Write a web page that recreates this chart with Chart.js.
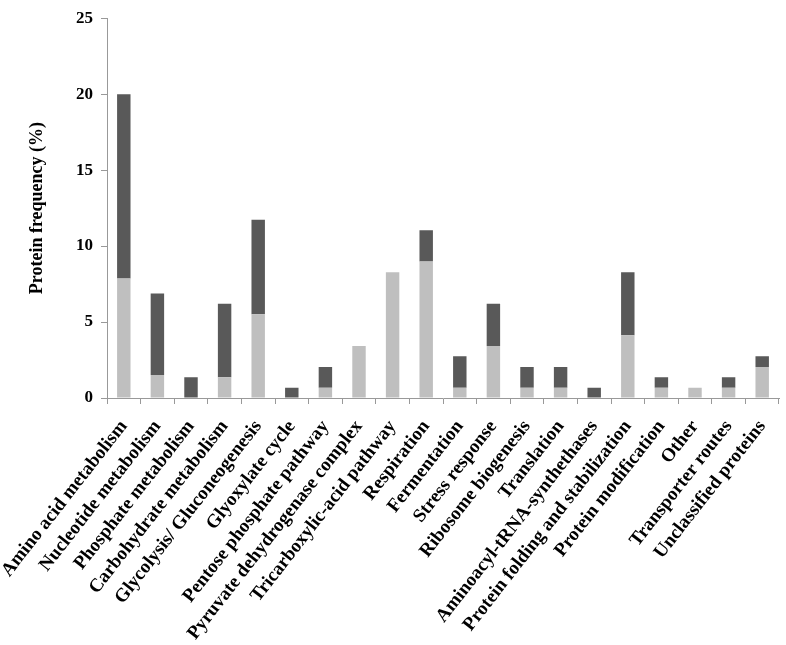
<!DOCTYPE html>
<html>
<head>
<meta charset="utf-8">
<script src="https://cdn.jsdelivr.net/npm/chart.js@4"></script>
<style>
  body { margin: 0; background: #fff; }
  #wrap { width: 786px; height: 645px; }
</style>
</head>
<body>
<div id="wrap"><canvas id="myChart" width="786" height="645"></canvas></div>
<script>
const categories = [
  "Amino acid metabolism",
  "Nucleotide metabolism",
  "Phosphate metabolism",
  "Carbohydrate metabolism",
  "Glycolysis/ Gluconeogenesis",
  "Glyoxylate cycle",
  "Pentose phosphate pathway",
  "Pyruvate dehydrogenase complex",
  "Tricarboxylic-acid pathway",
  "Respiration",
  "Fermentation",
  "Stress response",
  "Ribosome biogenesis",
  "Translation",
  "Aminoacyl-tRNA-synthethases",
  "Protein folding and stabilization",
  "Protein modification",
  "Other",
  "Transporter routes",
  "Unclassified proteins",
];

// lower (light) segment of each bar
const lightValues = [7.87, 1.52, 0, 1.36, 5.51, 0, 0.67, 3.43, 8.28, 8.98, 0.67, 3.43, 0.67, 0.67, 0, 4.13, 0.67, 0.67, 0.67, 2.04];
// upper (dark) segment stacked on top
const darkValues = [12.13, 5.36, 1.36, 4.84, 6.22, 0.67, 1.37, 0, 0, 2.07, 2.07, 2.77, 1.37, 1.37, 0.67, 4.14, 0.69, 0, 0.69, 0.7];

const yTicks = [0, 5, 10, 15, 20, 25];

const serif = "'Liberation Serif', 'Times New Roman', serif";
const font = { family: serif, weight: "bold", size: 17 };
const labelFont = { family: serif, weight: "bold", size: 19 };
const axisColor = "#999999";

const drawGraph = () => {
  let ctx = document.getElementById("myChart").getContext("2d");
  let myChart = new Chart(ctx, {
    type: "bar",
    data: {
      labels: categories,
      datasets: [
        { label: "light", data: lightValues, backgroundColor: "#bfbfbf" },
        { label: "dark", data: darkValues, backgroundColor: "#595959" },
      ],
    },
    options: {
      responsive: false,
      animation: false,
      layout: { padding: { top: 15, right: 7, left: 0, bottom: 0 } },
      plugins: { legend: { display: false }, tooltip: { enabled: false } },
      datasets: { bar: { barPercentage: 0.4, categoryPercentage: 1 } },
      scales: {
        x: {
          stacked: true,
          border: { color: axisColor, width: 1 },
          grid: { display: true, drawOnChartArea: false, drawTicks: true, tickLength: 6, color: axisColor },
          ticks: {
            autoSkip: false,
            minRotation: 52,
            maxRotation: 52,
            color: "#000",
            font: labelFont,
            padding: 12,
          },
          afterFit: (scale) => {
            // rotated labels may overhang to the left; keep the plot edge fixed
            scale.height = 247;
            scale.paddingLeft = 0;
            scale.paddingRight = 0;
          },
        },
        y: {
          stacked: true,
          min: 0,
          max: 25,
          border: { color: axisColor, width: 1 },
          grid: { display: true, drawOnChartArea: false, drawTicks: true, tickLength: 6, color: axisColor },
          afterBuildTicks: (scale) => {
            scale.ticks = yTicks.map((v) => ({ value: v }));
          },
          ticks: { color: "#000", font: font, padding: 8 },
          title: {
            display: true,
            text: "Protein frequency (%)",
            color: "#000",
            font: { family: serif, weight: "bold", size: 18 },
            padding: { top: 27, bottom: 0 },
          },
          afterFit: (scale) => {
            scale.width = 107;
          },
        },
      },
    },
  });
};

drawGraph();
</script>
</body>
</html>
